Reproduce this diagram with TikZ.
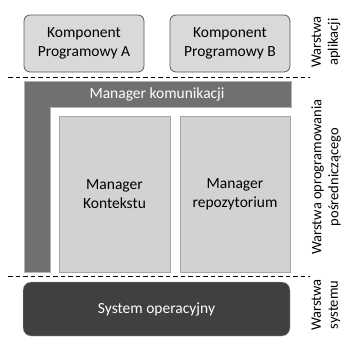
\documentclass[tikz,border=0pt]{standalone}
\usepackage{fontspec}
\setmainfont{Carlito}
\usepackage{tikz}

\tikzset{
    appbox/.style={draw=gray!70!black, fill=gray!30, rounded corners=6pt, line width=0.8pt},
    mgrbox/.style={draw=gray!70, fill=gray!35, line width=0.8pt},
    layerline/.style={line width=1pt, dash pattern=on 4.5pt off 3pt},
    layerlabel/.style={rotate=90, align=center, font=\fontsize{14.5}{17}\selectfont}
}

\begin{document}
\begin{tikzpicture}[x=1pt, y=-1pt, font=\fontsize{15.5}{19}\selectfont]
    \useasboundingbox (0,0) rectangle (347,338);

    % Application layer
    \filldraw[appbox] (24,15) rectangle (144,72);
    \node (kompA) at (84,43.5) [align=center] {Komponent\\Programowy A};
    \filldraw[appbox] (170,15) rectangle (290,72);
    \node (kompB) at (230,43.5) [align=center] {Komponent\\Programowy B};

    % Layer separators
    \draw[layerline] (8,77) -- (310,77);
    \draw[layerline] (8,276) -- (310,276);

    % Manager komunikacji (L shape)
    \filldraw[fill=gray!60!black!80, draw=gray!60] (24,81) -- (291,81) -- (291,107) -- (50,107) -- (50,272) -- (24,272) -- cycle;
    \node[text=white] (komunikacja) at (157,94) {Manager komunikacji};

    % Inner managers
    \filldraw[mgrbox] (59,116) rectangle (170,272);
    \node (kontekst) at (114.5,194) [align=center] {Manager\\Kontekstu};
    \filldraw[mgrbox] (180,116) rectangle (290,272);
    \node (repo) at (235,194) [align=center] {Manager\\repozytorium};

    % System layer
    \filldraw[fill=black!75, draw=gray!50, rounded corners=8pt] (23,282) rectangle (290,336);
    \node[text=white] (os) at (156.5,309) {System operacyjny};

    % Layer labels
    \node[layerlabel] (appl) at (326,42) {Warstwa\\aplikacji};
    \node[layerlabel] (midl) at (326,177) {Warstwa oprogramowania\\pośredniczącego};
    \node[layerlabel] (sysl) at (326,305) {Warstwa\\systemu};

\end{tikzpicture}
\end{document}
